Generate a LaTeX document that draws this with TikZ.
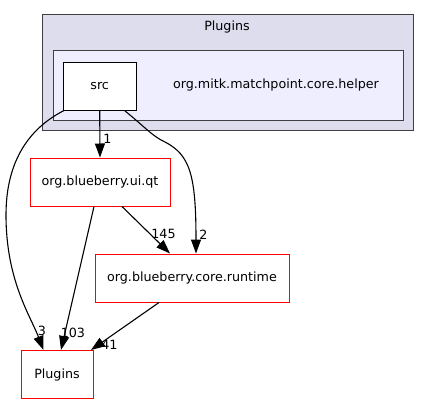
\documentclass[tikz,border=0pt]{standalone}
\usepackage{fontspec}
\setmainfont{DejaVu Sans}
\usepackage{tikz}
\usetikzlibrary{
	shapes,
	calc,
	arrows.meta}
\definecolor{clusterout}{HTML}{DDDDEE}
\definecolor{clusterin}{HTML}{EEEEFF}
\definecolor{clusterline}{HTML}{404040}

\begin{document}
\begin{tikzpicture}[x=1pt,y=-1pt,every text node part/.style={align=center},
    font=\fontsize{12.7}{15}\selectfont]
  \tikzstyle{dirbox}=[rectangle,draw=red,line width=1pt,fill=white,
    minimum height=48pt,inner sep=0pt]
  \tikzstyle{srcbox}=[rectangle,draw=black,line width=1pt,fill=white,
    minimum width=73pt,minimum height=48pt,inner sep=0pt]
  \tikzstyle{dep}=[draw=black,line width=1.1pt,
    -{Triangle[length=14pt,width=10pt]}]
  \tikzstyle{count}=[inner sep=0pt,font=\fontsize{12.7}{15}\selectfont]

  \useasboundingbox (0,0) rectangle (429,404);

  \draw [clusterline,fill=clusterout,line width=1pt] (42,15) rectangle (413,131);
  \node (outerlabel) at (227,27) {Plugins};
  \draw [clusterline,fill=clusterin,line width=1pt] (53,51) rectangle (403,121);
  \node (innerlabel) at (276,85) {org.mitk.matchpoint.core.helper};

  \node [srcbox] (src) at (99.7,86.2) {src};
  \node [dirbox,minimum width=140pt] (uiqt) at (100,182) {org.blueberry.ui.qt};
  \node [dirbox,minimum width=194pt] (runtime) at (192,278) {org.blueberry.core.runtime};
  \node [dirbox,minimum width=72pt] (plugins) at (57,374.5) {Plugins};

  \draw [dep] (src.south) -- (uiqt.north)
    node [count,pos=0.6,anchor=west,xshift=3pt] {1};
  \draw [dep] ([xshift=1pt]src.south west) .. controls (30,128) and (6,160) .. (6,215)
    .. controls (6,280) and (30,315) .. ([xshift=23pt]plugins.north west)
    node [count,pos=0.82,anchor=west,xshift=2pt] {3};
  \draw [dep] ([xshift=-12pt]src.south east) .. controls (145,127) and (152,136) .. (165,142)
    .. controls (190,155) and (196,175) .. ([xshift=4pt]runtime.north)
    node [count,pos=0.915,anchor=west,xshift=3pt] {2};
  \draw [dep] ([xshift=22pt]uiqt.south) -- ([xshift=-22pt]runtime.north)
    node [count,pos=0.58,anchor=west,xshift=1pt] {145};
  \draw [dep] ([xshift=-6pt]uiqt.south) -- ([xshift=4pt]plugins.north)
    node [count,pos=0.88,xshift=8pt] {103};
  \draw [dep] ([xshift=-33pt]runtime.south) -- ([xshift=34pt]plugins.north)
    node [count,pos=0.9,anchor=west,xshift=3pt] {41};
\end{tikzpicture}
\end{document}
